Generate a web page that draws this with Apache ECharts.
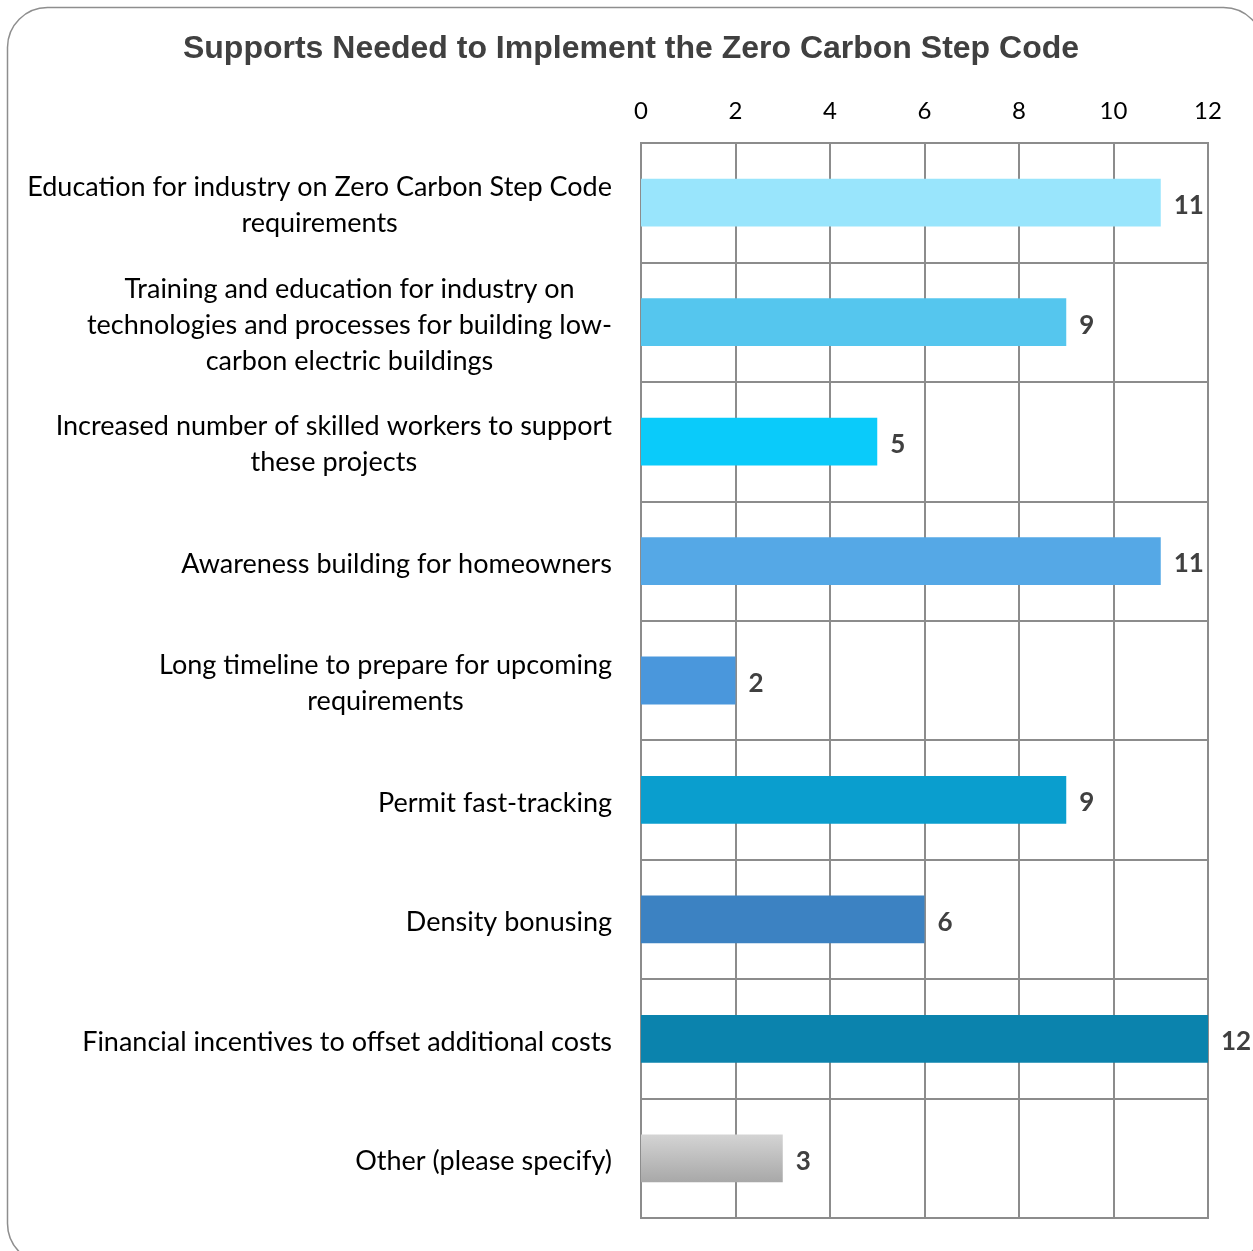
<!DOCTYPE html>
<html>
<head>
<meta charset="utf-8">
<script src="https://cdn.jsdelivr.net/npm/echarts@6/dist/echarts.min.js"></script>
<style>
  html, body { margin: 0; padding: 0; background: #fff; }
  #chart { width: 1253px; height: 1251px; }
</style>
</head>
<body>
<div id="chart"></div>
<script type="text/javascript">
  // Supports needed - horizontal bar chart

  var categories = [
    'Education for industry on Zero Carbon Step Code\nrequirements',
    'Training and education for industry on\ntechnologies and processes for building low-\ncarbon electric buildings',
    'Increased number of skilled workers to support\nthese projects',
    'Awareness building for homeowners',
    'Long timeline to prepare for upcoming\nrequirements',
    'Permit fast-tracking',
    'Density bonusing',
    'Financial incentives to offset additional costs',
    'Other (please specify)'
  ];
  var counts = [11, 9, 5, 11, 2, 9, 6, 12, 3];
  var axisTicks = [0, 2, 4, 6, 8, 10, 12];

  var barColors = [
    '#99E5FC', '#55C6EE', '#0ACBFA', '#55A8E6', '#4A97DC',
    '#0A9ECE', '#3C82C2', '#0B83AD',
    new echarts.graphic.LinearGradient(0, 0, 0, 1, [
      { offset: 0, color: '#D4D4D4' },
      { offset: 1, color: '#A8A8A8' }
    ])
  ];

  var gridColor = '#8C8C8C';
  var labelFont = 'Lato';

  var myChart = echarts.init(document.getElementById('chart'));

  var option = {
    animation: false,
    title: {
      text: 'Supports Needed to Implement the Zero Carbon Step Code',
      left: 626,
      top: 28,
      textAlign: 'center',
      textStyle: {
        fontFamily: 'Liberation Sans',
        fontWeight: 'bold',
        fontSize: 32,
        color: '#404040'
      }
    },
    graphic: [
      {
        type: 'rect',
        shape: { x: 7.5, y: 7.5, width: 1256, height: 1256, r: 40 },
        style: { fill: 'none', stroke: '#8E8E8E', lineWidth: 1.5 },
        z: -1
      }
    ],
    grid: {
      left: 641,
      right: 45,
      top: 143,
      bottom: 33,
      show: true,
      borderColor: gridColor,
      borderWidth: 2
    },
    xAxis: {
      type: 'value',
      position: 'top',
      min: axisTicks[0],
      max: axisTicks[axisTicks.length - 1],
      interval: axisTicks[1] - axisTicks[0],
      axisLine: { show: true, lineStyle: { color: gridColor, width: 2 } },
      axisTick: { show: false },
      axisLabel: {
        margin: 20,
        fontFamily: labelFont,
        fontSize: 24,
        color: '#000'
      },
      splitLine: { show: true, lineStyle: { color: gridColor, width: 2 } }
    },
    yAxis: {
      type: 'category',
      inverse: true,
      data: categories,
      axisLine: { show: true, lineStyle: { color: gridColor, width: 2 } },
      axisTick: { show: false },
      splitLine: { show: true, interval: 0, lineStyle: { color: gridColor, width: 2 } },
      axisLabel: {
        interval: 0,
        align: 'right',
        margin: 29,
        padding: [6, 0, 0, 0],
        formatter: function (value) {
          return value.split('\n').map(function (l) {
            return '{c|' + l + '}';
          }).join('\n');
        },
        rich: {
          c: {
            align: 'center',
            fontFamily: labelFont,
            fontSize: 27,
            lineHeight: 36,
            color: '#000'
          }
        }
      }
    },
    series: [
      {
        type: 'bar',
        barWidth: '40%',
        data: counts.map(function (v, i) {
          return { value: v, itemStyle: { color: barColors[i] } };
        }),
        label: {
          show: true,
          position: 'right',
          distance: 13,
          offset: [0, 3],
          fontFamily: labelFont,
          fontWeight: 'bold',
          fontSize: 26,
          color: '#404040'
        }
      }
    ]
  };

  myChart.setOption(option);

  window.addEventListener('resize', myChart.resize);
</script>
</body>
</html>
